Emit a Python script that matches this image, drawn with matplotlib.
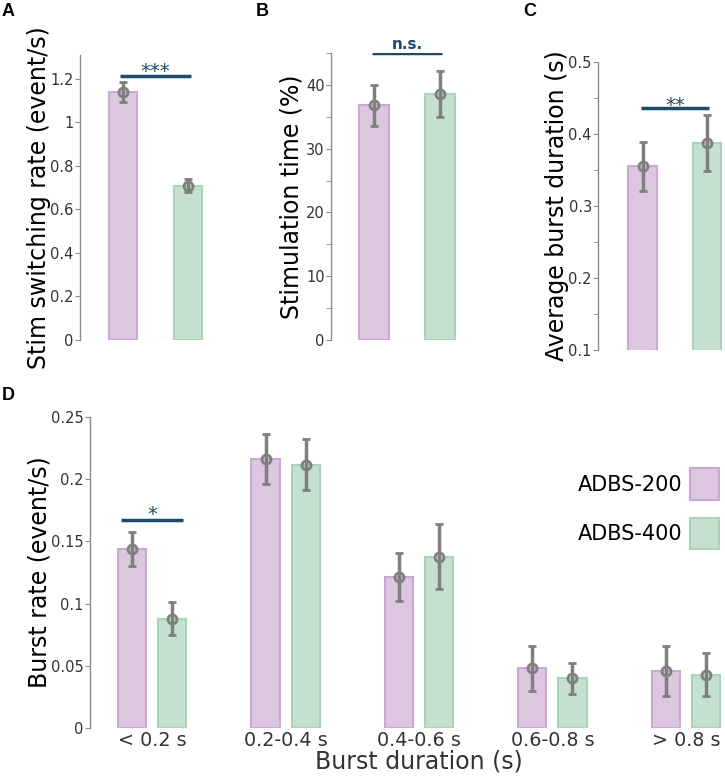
import matplotlib
matplotlib.use("Agg")
import matplotlib.pyplot as plt
import matplotlib.transforms as mtransforms
from matplotlib.patches import Patch
import numpy as np

# ---------------- data ----------------
groups = ["ADBS-200", "ADBS-400"]

switch_rate = [1.14, 0.708]
switch_err = [0.045, 0.030]

stim_time = [36.8, 38.6]
stim_err = [3.2, 3.6]

burst_dur = [0.355, 0.388]
burst_dur_err = [0.034, 0.039]

bins = ["< 0.2 s", "0.2-0.4 s", "0.4-0.6 s", "0.6-0.8 s", "> 0.8 s"]
rate_200 = [0.144, 0.2165, 0.1217, 0.0479, 0.0457]
err_200 = [0.0137, 0.0201, 0.0193, 0.018, 0.020]
rate_400 = [0.088, 0.2117, 0.1378, 0.0398, 0.043]
err_400 = [0.013, 0.0207, 0.0262, 0.0121, 0.017]

# ---------------- style ----------------
W, H = 725, 779
PURPLE = "#dcc6e0"; PURPLE_E = "#c9a9d1"
GREEN = "#c6e0cf"; GREEN_E = "#aad4b9"
ERR = "#7f7f7f"
SIG = "#1b4a6b"
AXC = "#8c8c8c"
TXT = "#333333"
YLAB = 17

plt.rcParams["font.family"] = ["DejaVu Sans"]

fig = plt.figure(figsize=(W / 100, H / 100), dpi=100)


def px_axes(x0, y_top, x1, y_bot):
    # axes from pixel box (origin top-left)
    return fig.add_axes([x0 / W, 1 - y_bot / H, (x1 - x0) / W, (y_bot - y_top) / H])


def style_ax(ax):
    for s in ["top", "right", "bottom"]:
        ax.spines[s].set_visible(False)
    ax.spines["left"].set_color(AXC)
    ax.spines["left"].set_linewidth(1.0)
    ax.tick_params(axis="y", which="both", direction="out", colors=AXC,
                   labelcolor=TXT, labelsize=10.5, length=3.5, pad=1)
    ax.tick_params(axis="x", length=0)
    ax.patch.set_alpha(0)


def ylabel_at(ax, text, x_px):
    # x_px = right (descender) edge of the rotated label, in figure pixels
    ax.set_ylabel(text, fontsize=YLAB, color="black")
    tr = mtransforms.blended_transform_factory(fig.transFigure, ax.transAxes)
    ax.yaxis.set_label_coords(x_px / W, 0.5, transform=tr)


def errs(ax, xs, vals, e):
    ax.errorbar(xs, vals, yerr=e, fmt="o", mfc="none", mec=ERR, mew=2,
                ms=6.5, ecolor=ERR, elinewidth=2.5, capsize=3, capthick=2.5, zorder=3)


def bars(ax, xs, vals, e, colors, edges, width):
    ax.bar(xs, vals, width=width, color=colors, edgecolor=edges, linewidth=1.5, zorder=2)
    errs(ax, xs, vals, e)


def sig(ax, x0, x1, y, text, dy, bold=False, size=13):
    ax.plot([x0, x1], [y, y], color=SIG, lw=2.5, solid_capstyle="butt", zorder=4)
    ax.text((x0 + x1) / 2, y + dy, text, color=SIG, ha="center", va="bottom",
            fontsize=size, fontweight="bold" if bold else "normal")


def fmt(v):
    return ("%.2f" % v).rstrip("0").rstrip(".")


# ---------------- panel A ----------------
axA = px_axes(80, 55, 231, 340)
style_ax(axA)
bars(axA, [1, 2], switch_rate, switch_err, [PURPLE, GREEN], [PURPLE_E, GREEN_E], 0.44)
axA.set_xlim(0.333, 2.667)
axA.set_ylim(0, 1.31)
ticks = np.arange(0, 1.21, 0.2)
axA.set_yticks(ticks)
axA.set_yticklabels([fmt(t) for t in ticks])
axA.set_xticks([])
ylabel_at(axA, "Stim switching rate (event/s)", 51)
sig(axA, 0.95, 2.05, 1.215, "***", -0.025, size=14)

# ---------------- panel B ----------------
axB = px_axes(331, 53, 483, 340)
style_ax(axB)
bars(axB, [1, 2], stim_time, stim_err, [PURPLE, GREEN], [PURPLE_E, GREEN_E], 0.45)
axB.set_xlim(0.35, 2.65)
axB.set_ylim(0, 45)
axB.set_yticks(np.arange(0, 41, 10))
axB.set_yticks(np.arange(5, 46, 10), minor=True)
axB.set_xticks([])
ylabel_at(axB, "Stimulation time (%)", 303)
sig(axB, 0.97, 2.03, 45, "n.s.", 0.15, bold=True, size=11)

# ---------------- panel C ----------------
axC = px_axes(598, 62, 731, 350)
style_ax(axC)
axC.bar([1, 2], burst_dur, width=0.44, color=[PURPLE, GREEN],
        edgecolor=[PURPLE_E, GREEN_E], linewidth=1.5, zorder=2)
errs(axC, [1, 2], burst_dur, burst_dur_err)
axC.set_xlim(0.31, 2.37)
axC.set_ylim(0.1, 0.5)
ticks = np.arange(0.1, 0.51, 0.1)
axC.set_yticks(ticks)
axC.set_yticklabels([fmt(t) for t in ticks])
axC.set_yticks(np.arange(0.15, 0.5, 0.1), minor=True)
axC.set_xticks([])
ylabel_at(axC, "Average burst duration (s)", 569)
sig(axC, 0.97, 2.03, 0.4356, "**", -0.009, size=14)

# ---------------- panel D ----------------
axD = px_axes(90, 417, 748, 728)
style_ax(axD)
x = np.arange(len(bins))
off, bw = 0.15, 0.21
bars(axD, x - off, rate_200, err_200, PURPLE, PURPLE_E, bw)
bars(axD, x + off, rate_400, err_400, GREEN, GREEN_E, bw)
axD.set_xlim(-0.465, 4.465)
axD.set_ylim(0, 0.25)
ticks = np.arange(0, 0.251, 0.05)
axD.set_yticks(ticks)
axD.set_yticklabels([fmt(t) for t in ticks])
axD.set_xticks(x)
axD.set_xticklabels(bins, fontsize=13.8, color=TXT)
axD.tick_params(axis="x", pad=2)
axD.set_xlabel("Burst duration (s)", fontsize=17, color=TXT, labelpad=0)
ylabel_at(axD, "Burst rate (event/s)", 52)
sig(axD, -off - 0.08, off + 0.08, 0.167, "*", -0.003, size=14)

handles = [Patch(facecolor=PURPLE, edgecolor=PURPLE_E, linewidth=1.5),
           Patch(facecolor=GREEN, edgecolor=GREEN_E, linewidth=1.5)]
fig.legend(handles, groups, loc="upper right", bbox_to_anchor=(729 / W, 1 - 458 / H),
           frameon=False, markerfirst=False, fontsize=15, handlelength=1.35,
           handleheight=1.96, handletextpad=0.4, labelspacing=0.84, borderpad=0)

# ---------------- panel letters ----------------
for lab, px, py in [("A", 2, 12), ("B", 256, 11), ("C", 523, 11.5), ("D", 2, 396)]:
    fig.text(px / W, 1 - py / H, lab, fontsize=13, fontweight="bold",
             family="Liberation Sans", va="center", ha="left")

fig.savefig("out.png", dpi=100)
